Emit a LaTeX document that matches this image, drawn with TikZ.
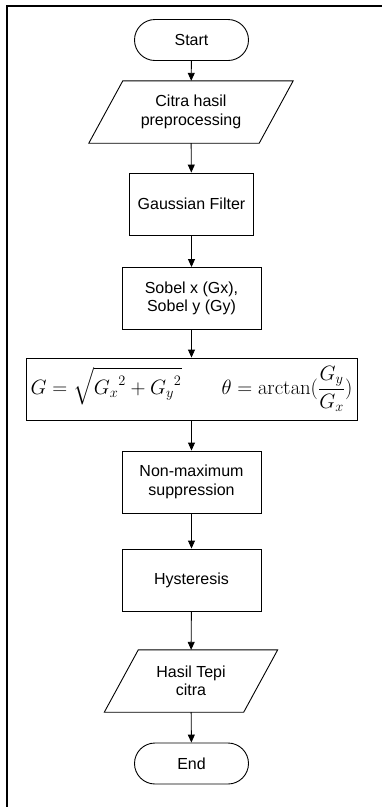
\documentclass[tikz,border=0pt]{standalone}
\usepackage{amsmath}
\usepackage[no-math]{fontspec}
\setmainfont{Liberation Sans}
\usetikzlibrary{arrows.meta}

\begin{document}
\begin{tikzpicture}[x=1pt,y=-1pt,font=\fontsize{16}{18.4}\selectfont,>={Triangle[width=7pt,length=8pt]},
  prc/.style={draw,line width=0.9pt,minimum width=139pt,minimum height=62pt,inner sep=2pt,align=center},
  io/.style={minimum width=#1,minimum height=62pt,inner sep=2pt,align=center,
    append after command={\pgfextra{\draw[line width=0.9pt]
      ([xshift=17pt]\tikzlastnode.north west) -- ([xshift=17pt]\tikzlastnode.north east)
      -- ([xshift=-17pt]\tikzlastnode.south east) -- ([xshift=-17pt]\tikzlastnode.south west) -- cycle;}}},
  term/.style={draw,line width=0.9pt,rounded corners=20.5pt,minimum width=114pt,minimum height=41pt}]
\useasboundingbox (0,0) rectangle (382,807);
\draw[line width=2pt] (382,5.5) -- (7,5.5) -- (7,807);
\node[term] (start) at (191.5,40) {Start};
\node[io=170pt] (citra) at (191,112) {Citra hasil\\preprocessing};
\node[prc,minimum width=124pt] (gauss) at (191.5,204) {Gaussian Filter};
\node[prc] (sobel) at (191.5,298.5) {Sobel x (Gx),\\Sobel y (Gy)};
\node[prc,minimum width=331pt,inner sep=0pt] (grad) at (191.5,389)
  {\fontsize{20}{24}\selectfont$\displaystyle G=\sqrt{{G_x}^2+{G_y}^2}\qquad\theta=\arctan(\frac{G_y}{G_x})$};
\node[prc] (nms) at (191.5,482) {Non-maximum\\suppression};
\node[prc] (hyst) at (191.5,580) {Hysteresis};
\node[io=139pt] (hasil) at (191,681) {Hasil Tepi\\citra};
\node[term] (end) at (191.5,763.5) {End};
\foreach \a/\b in {start/citra,citra/gauss,gauss/sobel,sobel/grad,grad/nms,nms/hyst,hyst/hasil,hasil/end}
  \draw[->,line width=0.9pt] (\a) -- (\b);
\end{tikzpicture}
\end{document}
